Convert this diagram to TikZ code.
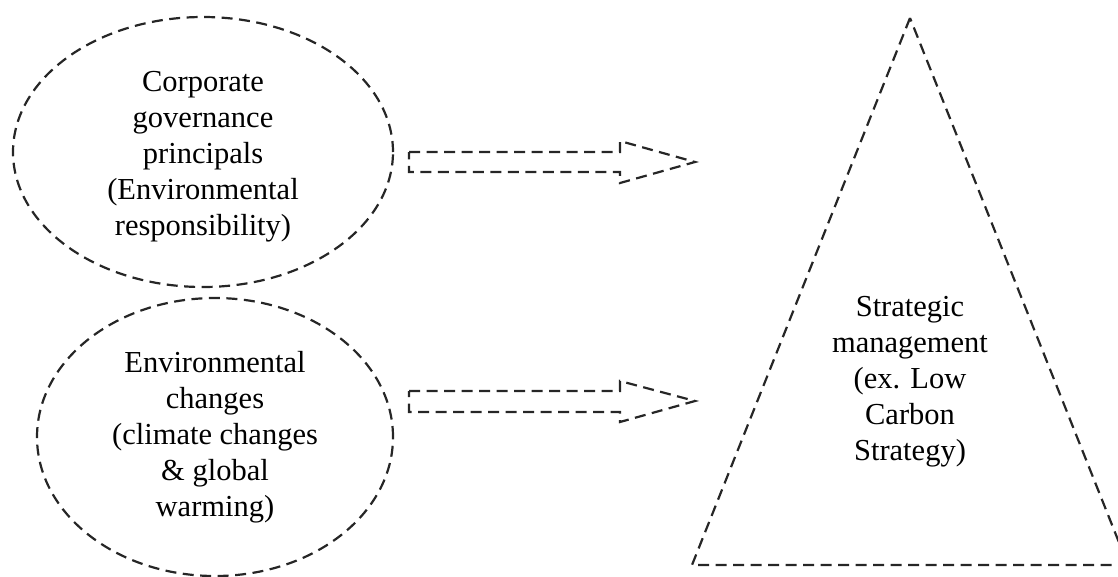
\documentclass[tikz,border=0pt]{standalone}
\usepackage{fontspec}
\setmainfont{Liberation Serif}
\usetikzlibrary{shapes.geometric}
\begin{document}
\begin{tikzpicture}[x=1pt,y=-1pt,
  dashline/.style={draw=black!85, line width=2.2pt, dash pattern=on 11pt off 6.5pt},
  oval/.style={dashline, ellipse, inner sep=0pt},
  lbl/.style={align=center, font=\fontsize{30.5}{36}\selectfont, inner sep=0pt}]
\useasboundingbox (0,0) rectangle (1118,576);
\clip (0,0) rectangle (1118,576);
% ellipses
\node[oval, minimum width=380pt, minimum height=270pt] (e1) at (203,152) {};
\node[oval, minimum width=356pt, minimum height=278pt] (e2) at (215,437) {};
\node[lbl] (t1) at (203,157) {Corporate\\governance\\principals\\(Environmental\\responsibility)};
\node[lbl] (t2) at (215,437) {Environmental\\changes\\(climate changes\\\& global\\warming)};
% triangle
\coordinate (apex) at (910,18);
\coordinate (bl) at (692,565);
\coordinate (br) at (1128,565);
\draw[dashline] (apex) -- (bl) -- (br) -- cycle;
\node[lbl] (t3) at (910,382) {Strategic\\management\\(ex. Low\\Carbon\\Strategy)};
% block arrows
\draw[dashline, line join=miter] (409,152) -- (620,152) -- (620,141) -- (695,162) -- (620,183) -- (620,172) -- (409,172) -- cycle;
\draw[dashline, line join=miter] (409,391) -- (620,391) -- (620,381) -- (695,401) -- (620,422) -- (620,412) -- (409,412) -- cycle;
\end{tikzpicture}
\end{document}
